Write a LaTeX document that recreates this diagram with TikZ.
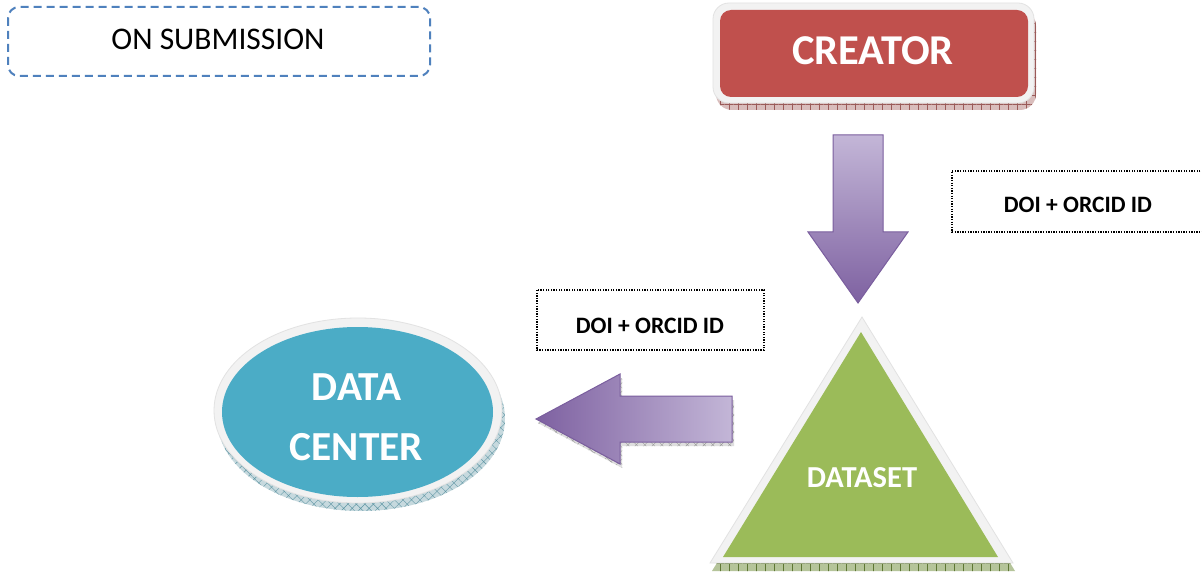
\documentclass[tikz,border=0pt]{standalone}
\usepackage{fontspec}
\setmainfont{Carlito}
\usetikzlibrary{patterns.meta}
\definecolor{creatorred}{HTML}{C0504D}
\definecolor{bevel}{HTML}{F2F2F2}
\definecolor{bevelline}{HTML}{E2E2E2}
\definecolor{dsgreen}{HTML}{9BBB59}
\definecolor{dcteal}{HTML}{4BACC6}
\definecolor{arrlight}{HTML}{C3B6D7}
\definecolor{arrdark}{HTML}{7E61A1}
\definecolor{arrline}{HTML}{7A5E9E}
\definecolor{dashblue}{HTML}{4F81BD}
\definecolor{shred}{HTML}{9A5A58}
\definecolor{shredlight}{HTML}{D9BDBC}
\definecolor{shgreen}{HTML}{5E7634}
\definecolor{shgreenlight}{HTML}{B5C49A}
\definecolor{shteal}{HTML}{5E95A3}
\definecolor{shteallight}{HTML}{C6D9DE}
\definecolor{shgray}{HTML}{9A9A9A}
\definecolor{shgraylight}{HTML}{DEDEDE}
\begin{document}
\begin{tikzpicture}[x=1pt,y=-1pt,
  dotbox/.style={draw=black, line width=1.3pt, dash pattern=on 1.3pt off 1.3pt},
  doitext/.style={font=\bfseries\fontsize{23.5}{28}\selectfont, anchor=base, inner sep=0pt},
  whitetext/.style={text=white, font=\bfseries, anchor=base, inner sep=0pt},
  gridshadow/.style={pattern={Hatch[angle=0,distance=9pt,line width=0.6pt]}},
  diagshadow/.style={pattern={Hatch[angle=45,distance=6pt,line width=0.4pt]}},
  bevelshape/.style={fill=bevel, draw=bevelline, line width=0.8pt},
  blockarrow/.style={draw=arrline, line width=1pt}
]
\useasboundingbox (0,0) rectangle (1202,572);
\fill[white] (0,0) rectangle (1202,572);

% ON SUBMISSION
\draw[dashblue, line width=2pt, dash pattern=on 8pt off 5pt, rounded corners=11pt]
  (8,7) rectangle (430,76);
\node[anchor=base, inner sep=0pt, font=\fontsize{31.5}{36}\selectfont] (sub) at (218,50) {ON SUBMISSION};

% CREATOR
\fill[shredlight, rounded corners=16pt] (716,10) rectangle (1036,110);
\path[gridshadow, pattern color=shred, rounded corners=16pt] (716,10) rectangle (1036,110);
\path[bevelshape, rounded corners=16pt] (713,3) rectangle (1034,103);
\fill[creatorred, rounded corners=11pt] (720,10) rectangle (1028,97);
\node[whitetext, font=\bfseries\fontsize{42.5}{50}\selectfont] (creator) at (873,65) {CREATOR};

% down block arrow
\shade[blockarrow, top color=arrlight, bottom color=arrdark]
  (833,135) -- (883,135) -- (883,232) -- (908,232) -- (858,303) -- (808,232) -- (833,232) -- cycle;

% right DOI box (runs off the right edge)
\draw[dotbox] (1203,171) -- (952,171) -- (952,232) -- (1203,232);
\node[doitext] (doiB) at (1078,213) {DOI + ORCID ID};

% left DOI box
\draw[dotbox] (537,290) rectangle (764,350);
\node[doitext] (doiA) at (650,333) {DOI + ORCID ID};

% left block arrow
\fill[shgraylight] (538,423) -- (622,378) -- (622,400) -- (734,400) -- (734,446) -- (622,446) -- (622,468) -- cycle;
\path[diagshadow, pattern color=shgray] (538,423) -- (622,378) -- (622,400) -- (734,400) -- (734,446) -- (622,446) -- (622,468) -- cycle;
\shade[blockarrow, left color=arrdark, right color=arrlight]
  (536,419) -- (620,374) -- (620,396) -- (732,396) -- (732,442) -- (620,442) -- (620,464) -- cycle;

% DATASET triangle
\fill[shgreenlight] (864,325) -- (712,571) -- (1015,571) -- cycle;
\path[gridshadow, pattern color=shgreen] (864,325) -- (712,571) -- (1015,571) -- cycle;
\path[bevelshape] (862,317) -- (710,563) -- (1013,563) -- cycle;
\fill[dsgreen] (861,332) -- (723,557) -- (998,557) -- cycle;
\node[whitetext, font=\bfseries\fontsize{30.5}{36}\selectfont] (dataset) at (862,487) {DATASET};

% DATA CENTER ellipse
\fill[shteallight] (361,418.5) ellipse [x radius=144, y radius=92.5];
\path[diagshadow, pattern color=shteal] (361,418.5) ellipse [x radius=144, y radius=92.5];
\path[bevelshape] (358,410.5) ellipse [x radius=144, y radius=92.5];
\fill[dcteal] (357.5,412) ellipse [x radius=135.5, y radius=85];
\node[whitetext, font=\bfseries\fontsize{41.3}{48}\selectfont] (dcA) at (356.5,400) {DATA};
\node[whitetext, font=\bfseries\fontsize{41.3}{48}\selectfont] (dcB) at (356.5,460) {CENTER};
\end{tikzpicture}
\end{document}
